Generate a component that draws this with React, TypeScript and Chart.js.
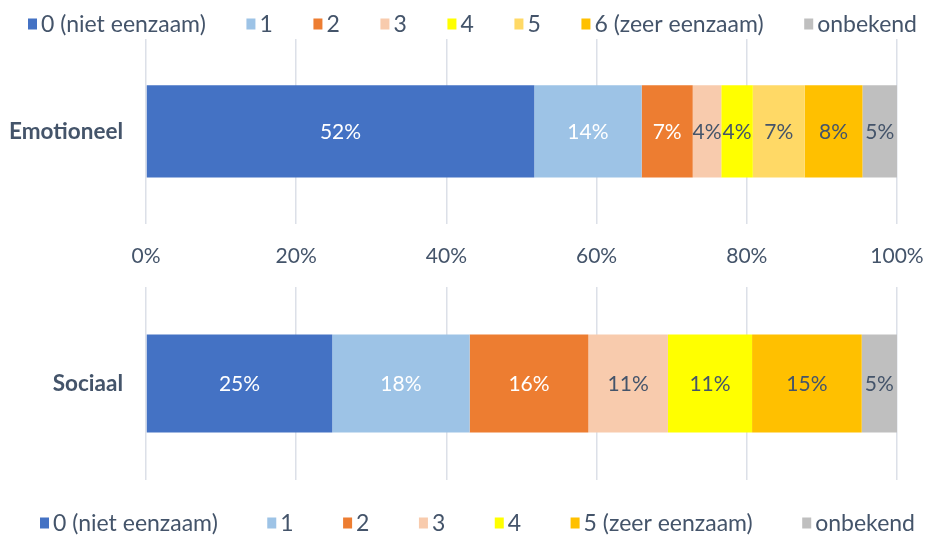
import React, { useEffect, useRef } from 'react';
import { Chart, registerables } from 'chart.js';

Chart.register(...registerables);

// ---------- data ----------
const topCategories = ['Emotioneel'];
const topLabels = ['0 (niet eenzaam)', '1', '2', '3', '4', '5', '6 (zeer eenzaam)', 'onbekend'];
const topValues = [51.7, 14.3, 6.8, 3.8, 4.2, 6.9, 7.7, 4.6];
const topColors = ['#4472C4', '#9DC3E6', '#ED7D31', '#F8CBAD', '#FFFF00', '#FFD966', '#FFC000', '#BFBFBF'];

const bottomCategories = ['Sociaal'];
const bottomLabels = ['0 (niet eenzaam)', '1', '2', '3', '4', '5 (zeer eenzaam)', 'onbekend'];
const bottomValues = [24.8, 18.3, 15.8, 10.6, 11.2, 14.6, 4.7];
const bottomColors = ['#4472C4', '#9DC3E6', '#ED7D31', '#F8CBAD', '#FFFF00', '#FFC000', '#BFBFBF'];

const xTickValues = [0, 20, 40, 60, 80, 100];
const whiteLabelColors = ['#4472C4', '#9DC3E6', '#ED7D31'];

// ---------- style ----------
const TEXT = '#44546A';
const GRID = '#DCE0E8';
const FONT = 'Lato';
const LABEL_SIZE = 21;
const LEGEND_SIZE = 23;
const CAT_SIZE = 22.5;

const segmentLabels = {
  id: 'segmentLabels',
  afterDatasetsDraw(chart: any) {
    const ctx = chart.ctx;
    ctx.save();
    ctx.font = `${LABEL_SIZE}px ${FONT}`;
    ctx.textAlign = 'center';
    ctx.textBaseline = 'middle';
    chart.data.datasets.forEach((ds: any, i: number) => {
      const meta = chart.getDatasetMeta(i);
      meta.data.forEach((bar: any, j: number) => {
        const v = ds.data[j];
        const p = bar.getProps(['x', 'base', 'y'], true);
        ctx.fillStyle = whiteLabelColors.includes(ds.backgroundColor) ? '#FFFFFF' : TEXT;
        ctx.fillText(Math.round(v) + '%', (p.x + p.base) / 2, p.y + 1);
      });
    });
    ctx.restore();
  },
};

const customLegend = {
  id: 'customLegend',
  afterDraw(chart: any, _args: any, opts: any) {
    const ctx = chart.ctx;
    ctx.save();
    ctx.font = `${LEGEND_SIZE}px ${FONT}`;
    ctx.textBaseline = 'middle';
    ctx.textAlign = 'left';
    const boxW = 9;
    const boxH = 11;
    const boxGap = 4;
    const items = chart.data.datasets.map((ds: any) => ({
      text: ds.label,
      color: ds.backgroundColor,
      w: boxW + boxGap + ctx.measureText(ds.label).width,
    }));
    const sum = items.reduce((s: number, it: any) => s + it.w, 0);
    const gap = (opts.x1 - opts.x0 - sum) / (items.length - 1);
    let x = opts.x0;
    const y = opts.y;
    items.forEach((it: any) => {
      ctx.fillStyle = it.color;
      ctx.fillRect(x, y - boxH / 2, boxW, boxH);
      ctx.fillStyle = TEXT;
      ctx.fillText(it.text, x + boxW + boxGap, y + 1);
      x += it.w + gap;
    });
    ctx.restore();
  },
};

type Props = {
  categories: string[];
  labels: string[];
  values: number[];
  colors: string[];
  width: number;
  height: number;
  top: number;
  showTicks: boolean;
  barPct: number;
  padding: { top: number; right: number; bottom: number; left: number };
  legend: { x0: number; x1: number; y: number };
};

function StackedBar(props: Props) {
  const ref = useRef<HTMLCanvasElement | null>(null);
  useEffect(() => {
    if (!ref.current) return;
    const chart = new Chart(ref.current, {
      type: 'bar',
      data: {
        labels: props.categories,
        datasets: props.labels.map((lab, i) => ({
          label: lab,
          data: [props.values[i]],
          backgroundColor: props.colors[i],
          borderWidth: 0,
          barPercentage: props.barPct,
          categoryPercentage: 1,
        })),
      },
      options: {
        indexAxis: 'y',
        responsive: false,
        maintainAspectRatio: false,
        animation: false,
        devicePixelRatio: 1,
        layout: { padding: props.padding },
        plugins: {
          legend: { display: false },
          tooltip: { enabled: false },
          customLegend: props.legend,
        } as any,
        scales: {
          x: {
            stacked: true,
            min: 0,
            max: 100,
            afterBuildTicks: (scale: any) => {
              scale.ticks = xTickValues.map((v) => ({ value: v }));
            },
            afterFit: (scale: any) => {
              scale.paddingLeft = 0;
              scale.paddingRight = 0;
            },
            ticks: {
              display: props.showTicks,
              color: TEXT,
              font: { family: FONT, size: LABEL_SIZE },
              padding: 20,
              maxRotation: 0,
              callback: (v: any) => v + '%',
            },
            grid: { color: GRID, lineWidth: 1.5, drawTicks: false },
            border: { display: false },
          },
          y: {
            stacked: true,
            afterFit: (scale: any) => {
              scale.width = 146;
              scale.paddingTop = 0;
              scale.paddingBottom = 0;
            },
            ticks: {
              color: TEXT,
              font: { family: FONT, size: CAT_SIZE, weight: 'bold' },
              padding: 15,
            },
            grid: { display: false },
            border: { display: false },
          },
        },
      },
      plugins: [segmentLabels, customLegend],
    });
    return () => chart.destroy();
  }, []);
  return (
    <canvas
      ref={ref}
      width={props.width}
      height={props.height}
      style={{ display: 'block', position: 'absolute', left: 0, top: props.top }}
    />
  );
}

export default function App() {
  return (
    <div style={{ position: 'absolute', left: 0, top: 0, width: 927, height: 535, background: '#FFFFFF' }}>
      <StackedBar
        categories={topCategories}
        labels={topLabels}
        values={topValues}
        colors={topColors}
        width={927}
        height={289}
        top={0}
        showTicks={true}
        barPct={0.5}
        padding={{ top: 39, right: 30, bottom: 0, left: 0 }}
        legend={{ x0: 28, x1: 917, y: 24 }}
      />
      <StackedBar
        categories={bottomCategories}
        labels={bottomLabels}
        values={bottomValues}
        colors={bottomColors}
        width={927}
        height={265}
        top={270}
        showTicks={false}
        barPct={0.508}
        padding={{ top: 17, right: 30, bottom: 55, left: 0 }}
        legend={{ x0: 40, x1: 915, y: 253 }}
      />
    </div>
  );
}
